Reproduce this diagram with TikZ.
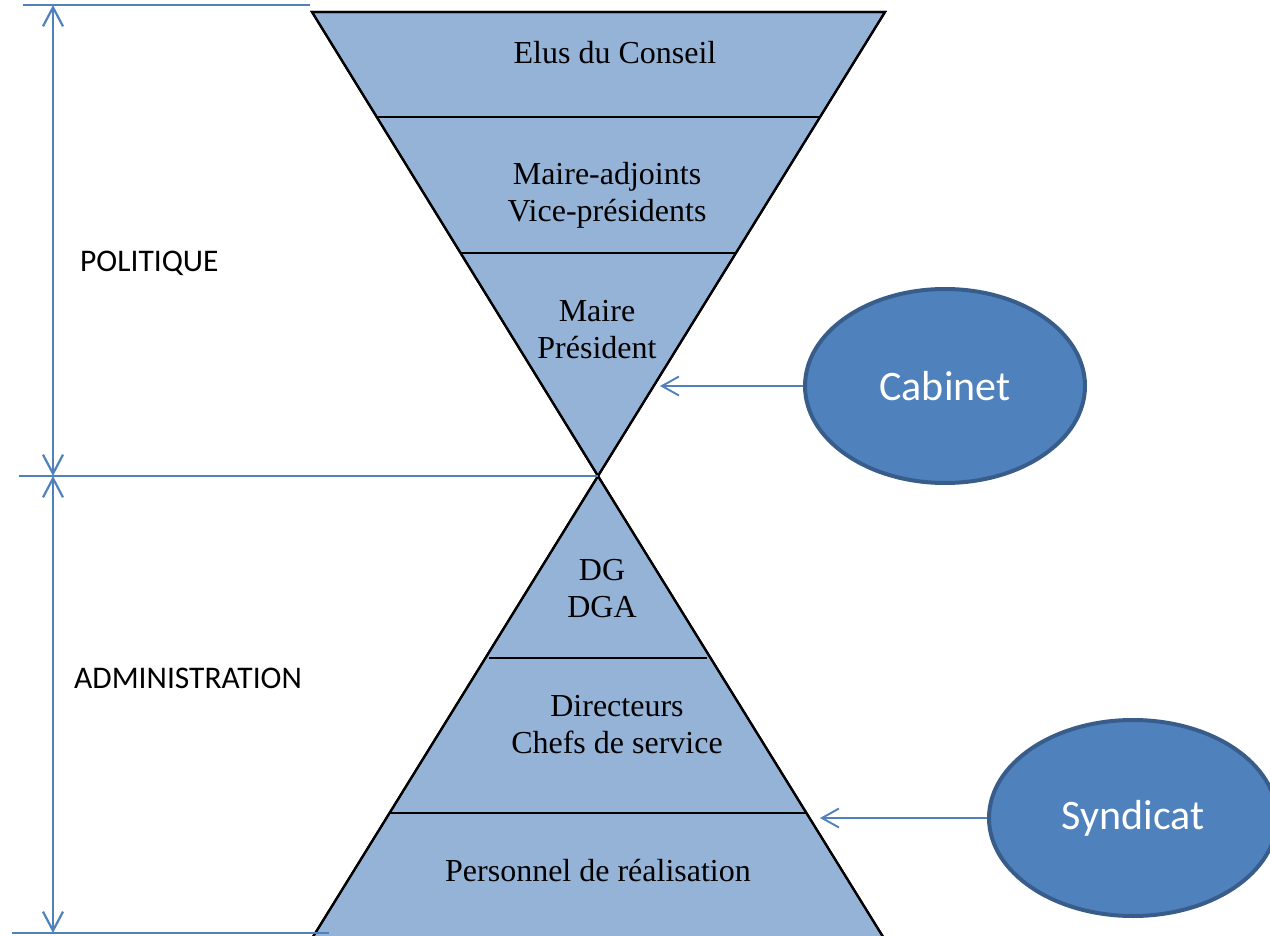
\documentclass[tikz,border=0pt]{standalone}
\usepackage{fontspec}
\setmainfont{Liberation Serif}
\newfontfamily\labelfont{Carlito}
\usetikzlibrary{shapes.geometric,arrows.meta}
\definecolor{bandfill}{HTML}{95B3D7}
\definecolor{accent}{HTML}{4F81BD}
\definecolor{rim}{HTML}{385D8A}
\tikzset{
  band/.style={fill=bandfill,draw=black,line width=2.2pt,line join=miter},
  divider/.style={draw=black,line width=1.8pt},
  bandtext/.style={font=\fontsize{32}{37}\selectfont,align=center,inner sep=0pt},
  sidetext/.style={font=\labelfont\fontsize{31.5}{36}\selectfont,anchor=west,inner sep=0pt},
  guide/.style={draw=accent,line width=2.2pt},
  span/.style={guide,{Straight Barb[length=19pt,width=20pt,line width=2.2pt]}-{Straight Barb[length=19pt,width=20pt,line width=2.2pt]}},
  feed/.style={guide,line width=1.9pt,-{Straight Barb[length=17pt,width=19pt,line width=1.9pt]}},
  bubble/.style={ellipse,fill=accent,draw=rim,line width=4pt,inner sep=0pt,
    text=white,font=\labelfont\fontsize{42}{48}\selectfont}
}
\begin{document}
\begin{tikzpicture}[x=1pt,y=-1pt]
\useasboundingbox (0,0) rectangle (1270,936);

% hourglass corners
\coordinate (tl) at (312,12);
\coordinate (tr) at (885,12);
\coordinate (apex) at (598,476);
\coordinate (bl) at (311,940);
\coordinate (br) at (885,940);

% upper (political) triangle and lower (administrative) triangle
\fill[band] (tl) -- (tr) -- (apex) -- cycle;
\fill[band] (apex) -- (br) -- (bl) -- cycle;
\draw[band,fill=none] (tl) -- (tr) -- (apex) -- cycle;
\draw[band,fill=none] (apex) -- (br) -- (bl) -- cycle;

% band dividers
\coordinate (d1l) at (377,117);  \coordinate (d1r) at (820,117);
\coordinate (d2l) at (461,253);  \coordinate (d2r) at (736,253);
\coordinate (d3l) at (489,658);  \coordinate (d3r) at (707,658);
\coordinate (d4l) at (389,813);  \coordinate (d4r) at (806,813);
\draw[divider] (d1l) -- (d1r);
\draw[divider] (d2l) -- (d2r);
\draw[divider] (d3l) -- (d3r);
\draw[divider] (d4l) -- (d4r);

% band labels
\node[bandtext] (elus) at (615,53) {Elus du Conseil};
\node[bandtext] (adj) at (607,195) {Maire-adjoints\\Vice-présidents};
\node[bandtext] (maire) at (597,330) {Maire\\Président};
\node[bandtext] (dg) at (602,589) {DG\\DGA};
\node[bandtext] (dir) at (617,725) {Directeurs\\Chefs de service};
\node[bandtext] (pers) at (598,871) {Personnel de réalisation};

% left-hand scale
\coordinate (topL) at (23,5);   \coordinate (topR) at (310,5);
\coordinate (midL) at (19,476);
\coordinate (botL) at (12,933); \coordinate (botR) at (329,933);
\coordinate (vtop) at (53,5);
\coordinate (vmid) at (53,476);
\coordinate (vbot) at (53,933);
\draw[guide] (topL) -- (topR);
\draw[guide] (midL) -- (apex);
\draw[guide] (botL) -- (botR);
\draw[span] (vtop) -- (vmid);
\draw[span] (vmid) -- (vbot);

\node[sidetext] (pol) at (80,263) {POLITIQUE};
\node[sidetext] (adm) at (74,678) {ADMINISTRATION};

% side bodies
\node[bubble,minimum width=280pt,minimum height=194pt] (cabinet) at (945,386) {Cabinet};
\node[bubble,minimum width=288pt,minimum height=196pt] (syndicat) at (1133,818) {Syndicat};

\coordinate (cabTip) at (660,386);
\coordinate (synTip) at (820,818);
\draw[feed] (cabinet.west) -- (cabTip);
\draw[feed] (syndicat.west) -- (synTip);
\end{tikzpicture}
\end{document}
